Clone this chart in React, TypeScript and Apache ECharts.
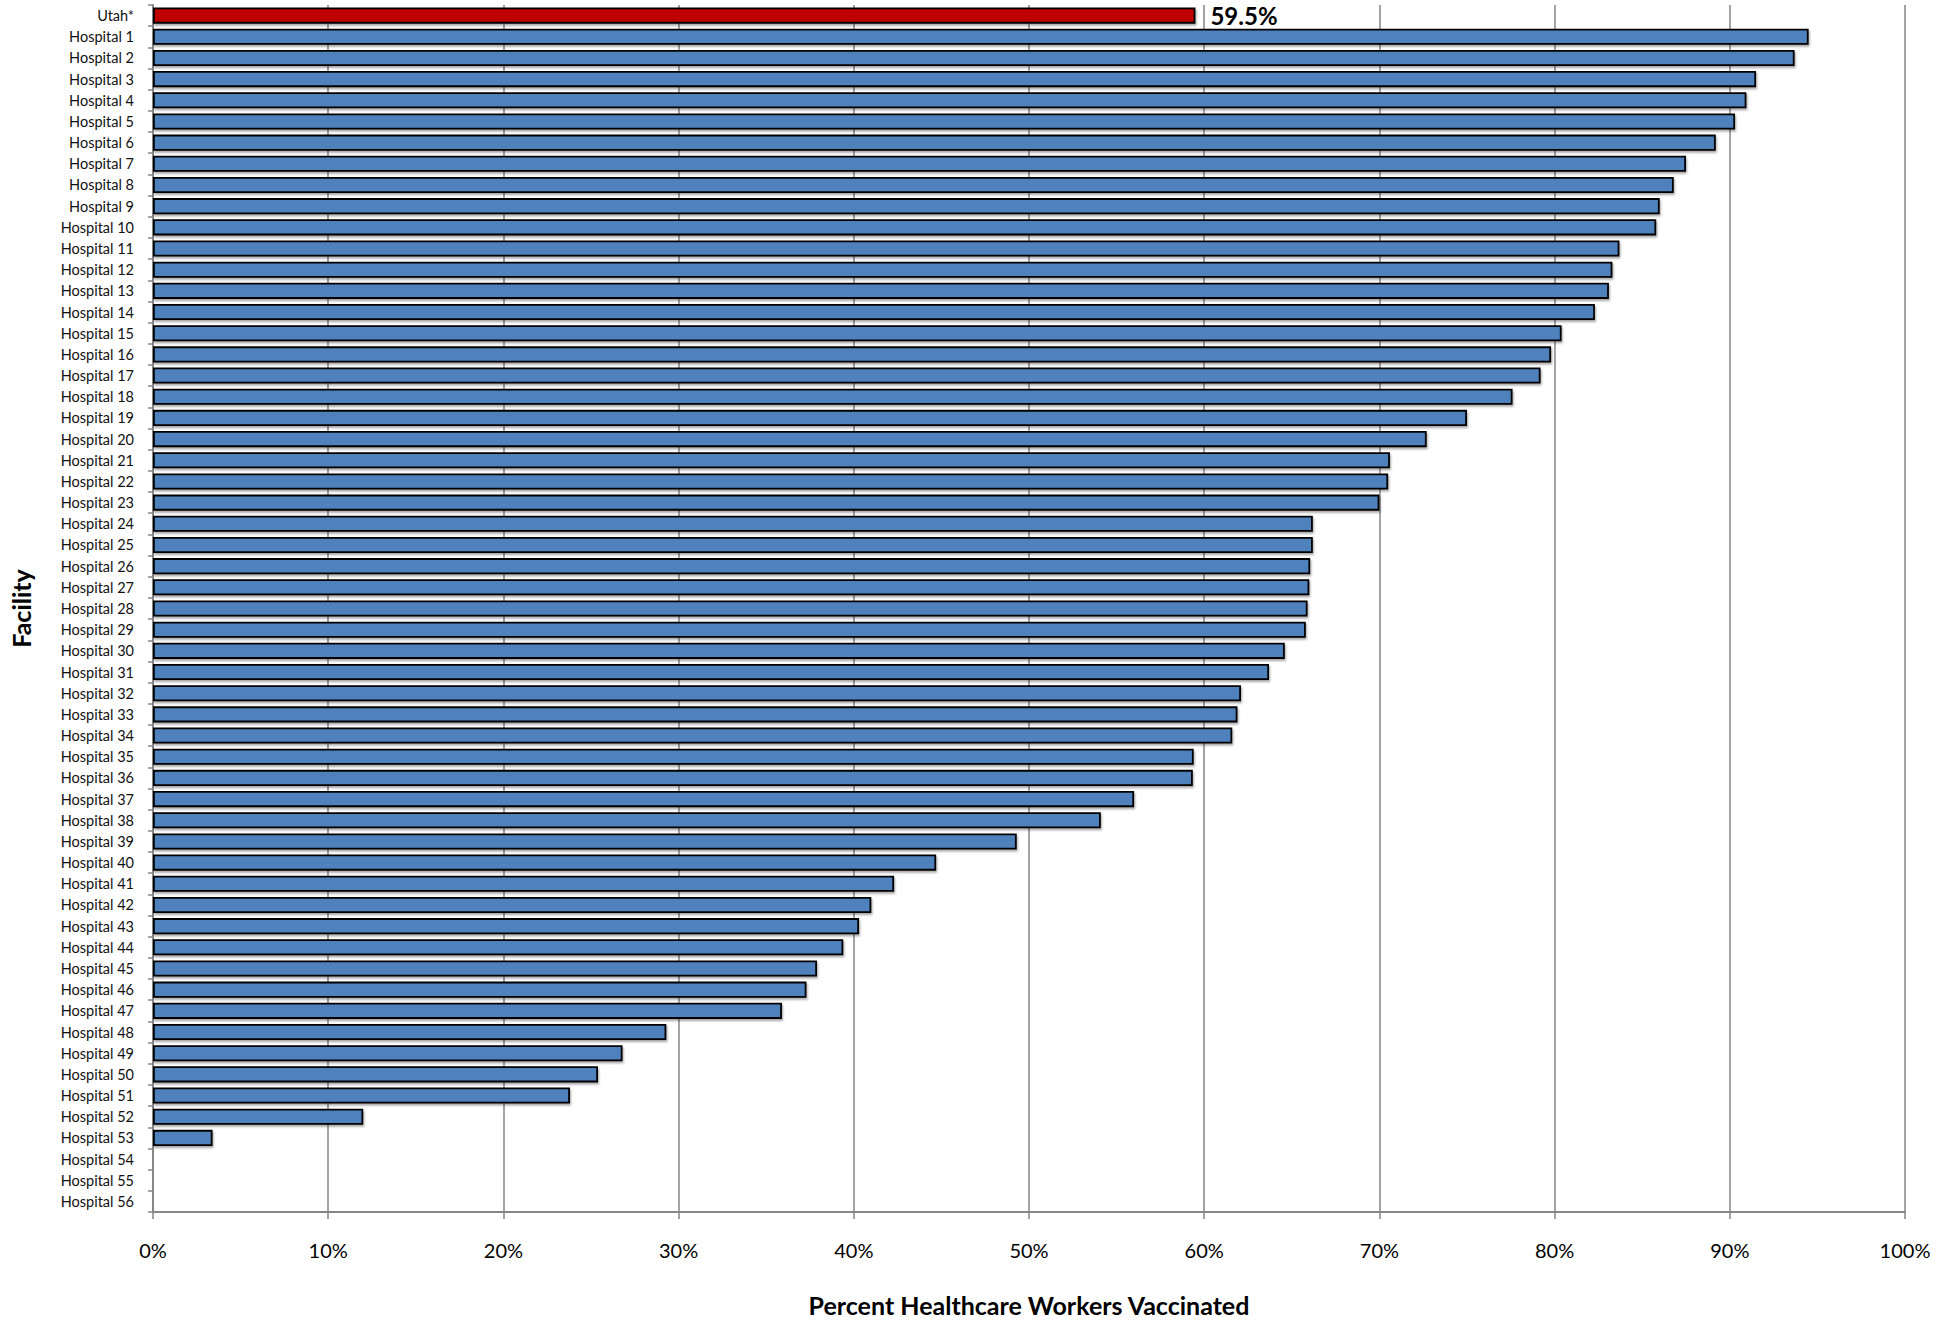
import React, { useEffect, useRef } from "react";
import * as echarts from "echarts";

const facilities = [
  "Utah*",
  ...Array.from({ length: 56 }, (_, i) => `Hospital ${i + 1}`),
];

const utahValue = 59.5;

const hospitalValues: (number | null)[] = [
  94.5, 93.7, 91.5, 90.95, 90.3, 89.2, 87.5, 86.8, 86.0, 85.8,
  83.7, 83.3, 83.1, 82.3, 80.4, 79.8, 79.2, 77.6, 75.0, 72.7,
  70.6, 70.5, 70.0, 66.2, 66.2, 66.05, 66.0, 65.9, 65.8, 64.6,
  63.7, 62.1, 61.9, 61.6, 59.4, 59.35, 56.0, 54.1, 49.3, 44.7,
  42.3, 41.0, 40.3, 39.4, 37.9, 37.3, 35.9, 29.3, 26.8, 25.4,
  23.8, 12.0, 3.4, null, null, null,
];

const xTicks = [0, 10, 20, 30, 40, 50, 60, 70, 80, 90, 100];

const FONT = "Lato, 'Open Sans', sans-serif";

export default function App() {
  const ref = useRef<HTMLDivElement>(null);
  useEffect(() => {
    document.body.style.margin = "0";
    if (!ref.current) return;
    const chart = echarts.init(ref.current, undefined, { renderer: "svg" });
    const data: any[] = [
      {
        value: utahValue,
        itemStyle: { color: "#C00000" },
        label: {
          show: true,
          position: "right",
          distance: 15,
          formatter: "{c}%",
          fontFamily: FONT,
          fontWeight: "bold",
          fontSize: 24,
          color: "#000",
        },
      },
      ...hospitalValues.map((v) => (v === null ? "-" : v)),
    ];
    chart.setOption({
      animation: false,
      backgroundColor: "#fff",
      grid: { left: 150, right: 53, top: 5, bottom: 104, containLabel: false },
      xAxis: {
        type: "value",
        min: xTicks[0],
        max: xTicks[xTicks.length - 1],
        interval: 10,
        name: "Percent Healthcare Workers Vaccinated",
        nameLocation: "middle",
        nameGap: 80,
        nameTextStyle: { fontFamily: FONT, fontWeight: "bold", fontSize: 25, color: "#000" },
        axisLine: { show: true, lineStyle: { color: "#868686", width: 2 } },
        axisTick: { show: true, length: 7, lineStyle: { color: "#868686", width: 1.5 } },
        axisLabel: {
          formatter: "{value}%",
          fontFamily: FONT,
          fontSize: 20,
          color: "#000",
          margin: 28,
        },
        splitLine: { show: true, lineStyle: { color: "#868686", width: 1.5 } },
      },
      yAxis: {
        type: "category",
        inverse: true,
        data: facilities,
        name: "Facility",
        nameLocation: "middle",
        nameRotate: 90,
        nameGap: 120,
        nameTextStyle: { fontFamily: FONT, fontWeight: "bold", fontSize: 25, color: "#000" },
        axisLine: { show: true, lineStyle: { color: "#868686", width: 2 } },
        axisTick: { show: true, length: 5, lineStyle: { color: "#868686", width: 1.5 } },
        axisLabel: {
          fontFamily: FONT,
          fontSize: 14.5,
          color: "#111",
          margin: 19,
          interval: 0,
        },
        splitLine: { show: false },
      },
      series: [
        {
          type: "bar",
          data,
          barCategoryGap: "24%",
          itemStyle: {
            color: "#4F81BD",
            borderColor: "#000",
            borderWidth: 1.8,
            shadowColor: "rgba(0,0,0,0.35)",
            shadowBlur: 2,
            shadowOffsetX: 1,
            shadowOffsetY: 2,
          },
        },
      ],
    });
    return () => chart.dispose();
  }, []);
  return <div ref={ref} style={{ width: 1958, height: 1322 }} />;
}
